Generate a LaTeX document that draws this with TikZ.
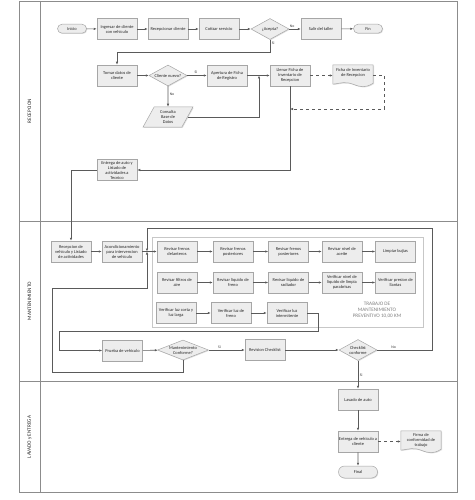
\documentclass[tikz,border=0pt]{standalone}
\usepackage{fontspec}
\setmainfont{Carlito}
\usetikzlibrary{arrows.meta,shapes.geometric,shapes.misc,shadows}
\definecolor{boxfill}{HTML}{EDEDED}
\definecolor{boxline}{HTML}{A6A6A6}
\definecolor{conn}{HTML}{5A5A5A}
\definecolor{lane}{HTML}{8C8C8C}
\begin{document}
\begin{tikzpicture}[x=1pt,y=-1pt,
  font=\fontsize{4.4}{5}\selectfont,
  base/.style={draw=boxline, fill=boxfill, line width=0.5pt, text=black!85, align=center, inner sep=0.5pt,
    drop shadow={shadow xshift=0.8pt, shadow yshift=-0.8pt, opacity=0.25}},
  proc/.style={base, rectangle, minimum width=40pt, minimum height=21pt},
  term/.style={base, rounded rectangle, minimum width=30pt, minimum height=9pt},
  termb/.style={base, rounded rectangle, minimum width=40pt, minimum height=12pt},
  dec/.style={base, diamond, aspect=1.8, minimum width=38pt, minimum height=21pt, inner sep=0pt},
  decw/.style={base, diamond, aspect=2.5, minimum width=51pt, minimum height=20pt, inner sep=0pt},
  iobox/.style={base, trapezium, trapezium left angle=65, trapezium right angle=115, trapezium stretches=true, minimum width=50pt, minimum height=20pt},
  docnode/.style={rectangle, minimum width=40pt, minimum height=21pt, align=center, inner sep=0.5pt, text=black!85},
  docshape/.style={draw=boxline, fill=boxfill, line width=0.5pt, drop shadow={shadow xshift=0.8pt, shadow yshift=-0.8pt, opacity=0.25}},
  arr/.style={draw=conn, line width=0.55pt, -{Latex[length=3pt,width=2.4pt]}},
  lbl/.style={font=\fontsize{3.8}{4.2}\selectfont, text=black!80, inner sep=1.5pt},
  lanetxt/.style={rotate=90, font=\fontsize{5.2}{6}\selectfont, text=black!85},
  lanebox/.style={draw=lane, line width=0.7pt}
]
\useasboundingbox (0,0) rectangle (474,500);
% ---- swimlanes
\draw[lanebox] (19,1) rectangle (457,492);
\draw[lanebox] (40,1) -- (40,492);
\draw[lanebox] (19,221) -- (457,221);
\draw[lanebox] (19,381) -- (457,381);
\node[lanetxt] (l1) at (29.5,111) {RECEPCION};
\node[lanetxt] (l2) at (29.5,301) {MANTENIMIENTO};
\node[lanetxt] (l3) at (29.5,437) {LAVADO y ENTREGA};

% ---- group box
\draw[draw=black!22, line width=1pt, fill=white] (152,237) rectangle (423,327);
\node[align=center, text=black!50, font=\fontsize{5.2}{6}\selectfont] (grp) at (377,310) {TRABAJO DE\\MANTENIMIENTO\\PREVENTIVO 10,00 KM};

% ---- RECEPCION nodes
\node[term] (ini) at (72,28.7) {Inicio};
\node[proc] (ing) at (117,29) {Ingresar de cliente\\con vehiculo};
\node[proc] (rec) at (168,29) {Recepcionar cliente};
\node[proc] (cot) at (219,29) {Cotizar servicio};
\node[dec] (acep) at (270,29) {¿Acepta?};
\node[proc] (sal) at (321,29) {Salir del taller};
\node[term] (fin) at (368,28.7) {Fin};

\node[proc] (tom) at (117,75.5) {Tomar datos de\\cliente};
\node[dec] (cn) at (168,75.5) {Cliente nuevo?};
\node[proc] (ape) at (227,75.5) {Apertura de Ficha\\de Registro};
\node[proc] (lle) at (290,75.5) {Llenar Ficha de\\Inventario de\\Recepcion};
\node[docnode] (fdoc) at (353,75.5) {};
\draw[docshape] (fdoc.north west) -- (fdoc.north east) -- ([yshift=3pt]fdoc.south east)
  .. controls ([xshift=-8pt,yshift=-2pt]fdoc.south east) and ([xshift=8pt,yshift=-1pt]fdoc.south) .. ([yshift=2pt]fdoc.south)
  .. controls ([xshift=-8pt,yshift=5pt]fdoc.south) and ([xshift=8pt,yshift=3pt]fdoc.south west) .. ([yshift=2pt]fdoc.south west) -- cycle;
\node[docnode, minimum height=0pt, anchor=north] (fdoct) at ([yshift=-3pt]fdoc.north) {Ficha de Inventario\\de Recepcion};
\node[iobox] (cbd) at (168,117) {Consulta\\Base de\\Datos};
\node[proc] (ent) at (117,170) {Entrega de auto y\\Listado de\\actividades a\\Tecnico};

% ---- MANTENIMIENTO nodes
\node[proc] (rv) at (71,251.5) {Recepcion de\\vehiculo y Listado\\de actividades};
\node[proc] (aco) at (122,251.5) {Acondicionamiento\\para intervencion\\de vehiculo};

\node[proc] (a1) at (177,251.5) {Revisar frenos\\delanteros};
\node[proc] (a2) at (233,251.5) {Revisar frenos\\posteriores};
\node[proc] (a3) at (288.5,251.5) {Revisar frenos\\posteriores};
\node[proc] (a4) at (342,251.5) {Revisar nivel de\\aceite};
\node[proc] (a5) at (395.5,251.5) {Limpiar bujias};

\node[proc] (b1) at (177,282.5) {Revisar filtros de\\aire};
\node[proc] (b2) at (233,282.5) {Revisar liquido de\\freno};
\node[proc] (b3) at (288.5,282.5) {Revisar liquido de\\radiador};
\node[proc] (b4) at (342,282.5) {Verificar nivel de\\liquido de limpia\\parabrisas};
\node[proc] (b5) at (395.5,282.5) {Verificar presion de\\llantas};

\node[proc] (c1) at (176,313) {Verificar luz corta y\\luz larga};
\node[proc] (c2) at (231,313) {Verificar luz de\\freno};
\node[proc] (c3) at (287,313) {Verificar luz\\intermitente};

\node[proc] (pru) at (122.5,350.5) {Prueba de vehiculo};
\node[decw] (mc) at (183,350) {Mantenimiento\\Conforme?};
\node[proc] (revc) at (265,350) {Revision Checklist};
\node[dec] (chk) at (358,350) {Checklist\\conforme};

% ---- LAVADO nodes
\node[proc] (lav) at (358,399.5) {Lavado de auto};
\node[proc] (entv) at (358,441.5) {Entrega de vehiculo a\\cliente};
\node[docnode] (firma) at (421,441.5) {};
\draw[docshape] (firma.north west) -- (firma.north east) -- ([yshift=3pt]firma.south east)
  .. controls ([xshift=-8pt,yshift=-2pt]firma.south east) and ([xshift=8pt,yshift=-1pt]firma.south) .. ([yshift=2pt]firma.south)
  .. controls ([xshift=-8pt,yshift=5pt]firma.south) and ([xshift=8pt,yshift=3pt]firma.south west) .. ([yshift=2pt]firma.south west) -- cycle;
\node[docnode, minimum height=0pt, anchor=north] (firmat) at ([yshift=-2pt]firma.north) {Firma de\\conformidad de\\trabajo};
\node[termb] (final) at (358,472) {Final};

% ---- bend coordinates
\coordinate (j1) at (259,75.5);
\coordinate (j2) at (290,109);
\coordinate (j3) at (147,251.5);
\coordinate (k1) at (432,228);
\coordinate (k2) at (52,372);
\coordinate (k3) at (52,288);
\coordinate (k4) at (59,331);

% ---- connectors RECEPCION
\draw[arr] (ini) -- (ing);
\draw[arr] (ing) -- (rec);
\draw[arr] (rec) -- (cot);
\draw[arr] (cot) -- (acep);
\draw[arr] (acep) -- node[lbl, above, pos=0.25] {No} (sal);
\draw[arr] (sal) -- (fin);
\draw[arr] (acep.south) -- node[lbl, right, pos=0.3] {Si} ++(0,13) -| (tom.north);
\draw[arr] (tom) -- (cn);
\draw[arr] (cn) -- node[lbl, above, pos=0.45] {Si} (ape);
\draw[arr] (cn.south) -- node[lbl, right, pos=0.4] {No} (cbd.north);
\draw[arr] (ape) -- (lle);
\draw[arr] (cbd.east) -| (j1);
\draw[arr, dashed] (lle) -- (fdoc);
\draw[arr, dashed] (fdoc.east) -- ++(11,0) |- (j2);
\draw[arr] (lle.south) |- (ent.east);
\draw[arr] (ent.west) -| (rv.north);

% ---- connectors MANTENIMIENTO
\draw[arr] (rv) -- (aco);
\draw[arr] (aco) -- (a1);
\draw[arr] (a1) -- (a2);
\draw[arr] (a2) -- (a3);
\draw[arr] (a3) -- (a4);
\draw[arr] (a4) -- (a5);
\draw[arr] (b1) -- (b2);
\draw[arr] (b2) -- (b3);
\draw[arr] (b3) -- (b4);
\draw[arr] (b4) -- (b5);
\draw[arr] (c1) -- (c2);
\draw[arr] (c2) -- (c3);
\draw[arr] (c3.east) -- ++(11,0) |- (k4) |- (pru.west);
\draw[arr] (pru) -- (mc);
\draw[arr] (mc) -- node[lbl, above, pos=0.3] {Si} (revc);
\draw[arr] (mc.south) |- (k2) -- (k3) -| (j3);
\draw[arr] (revc) -- (chk);
\draw[arr] (chk.east) -- node[lbl, above, pos=0.3] {No} (chk.east -| k1) -- (k1) -| (j3);
\draw[arr] (chk.south) -- node[lbl, right, pos=0.5] {Si} (lav.north);

% ---- connectors LAVADO
\draw[arr] (lav) -- (entv);
\draw[arr, dashed] (entv) -- (firma);
\draw[arr] (entv) -- (final);
\end{tikzpicture}
\end{document}
